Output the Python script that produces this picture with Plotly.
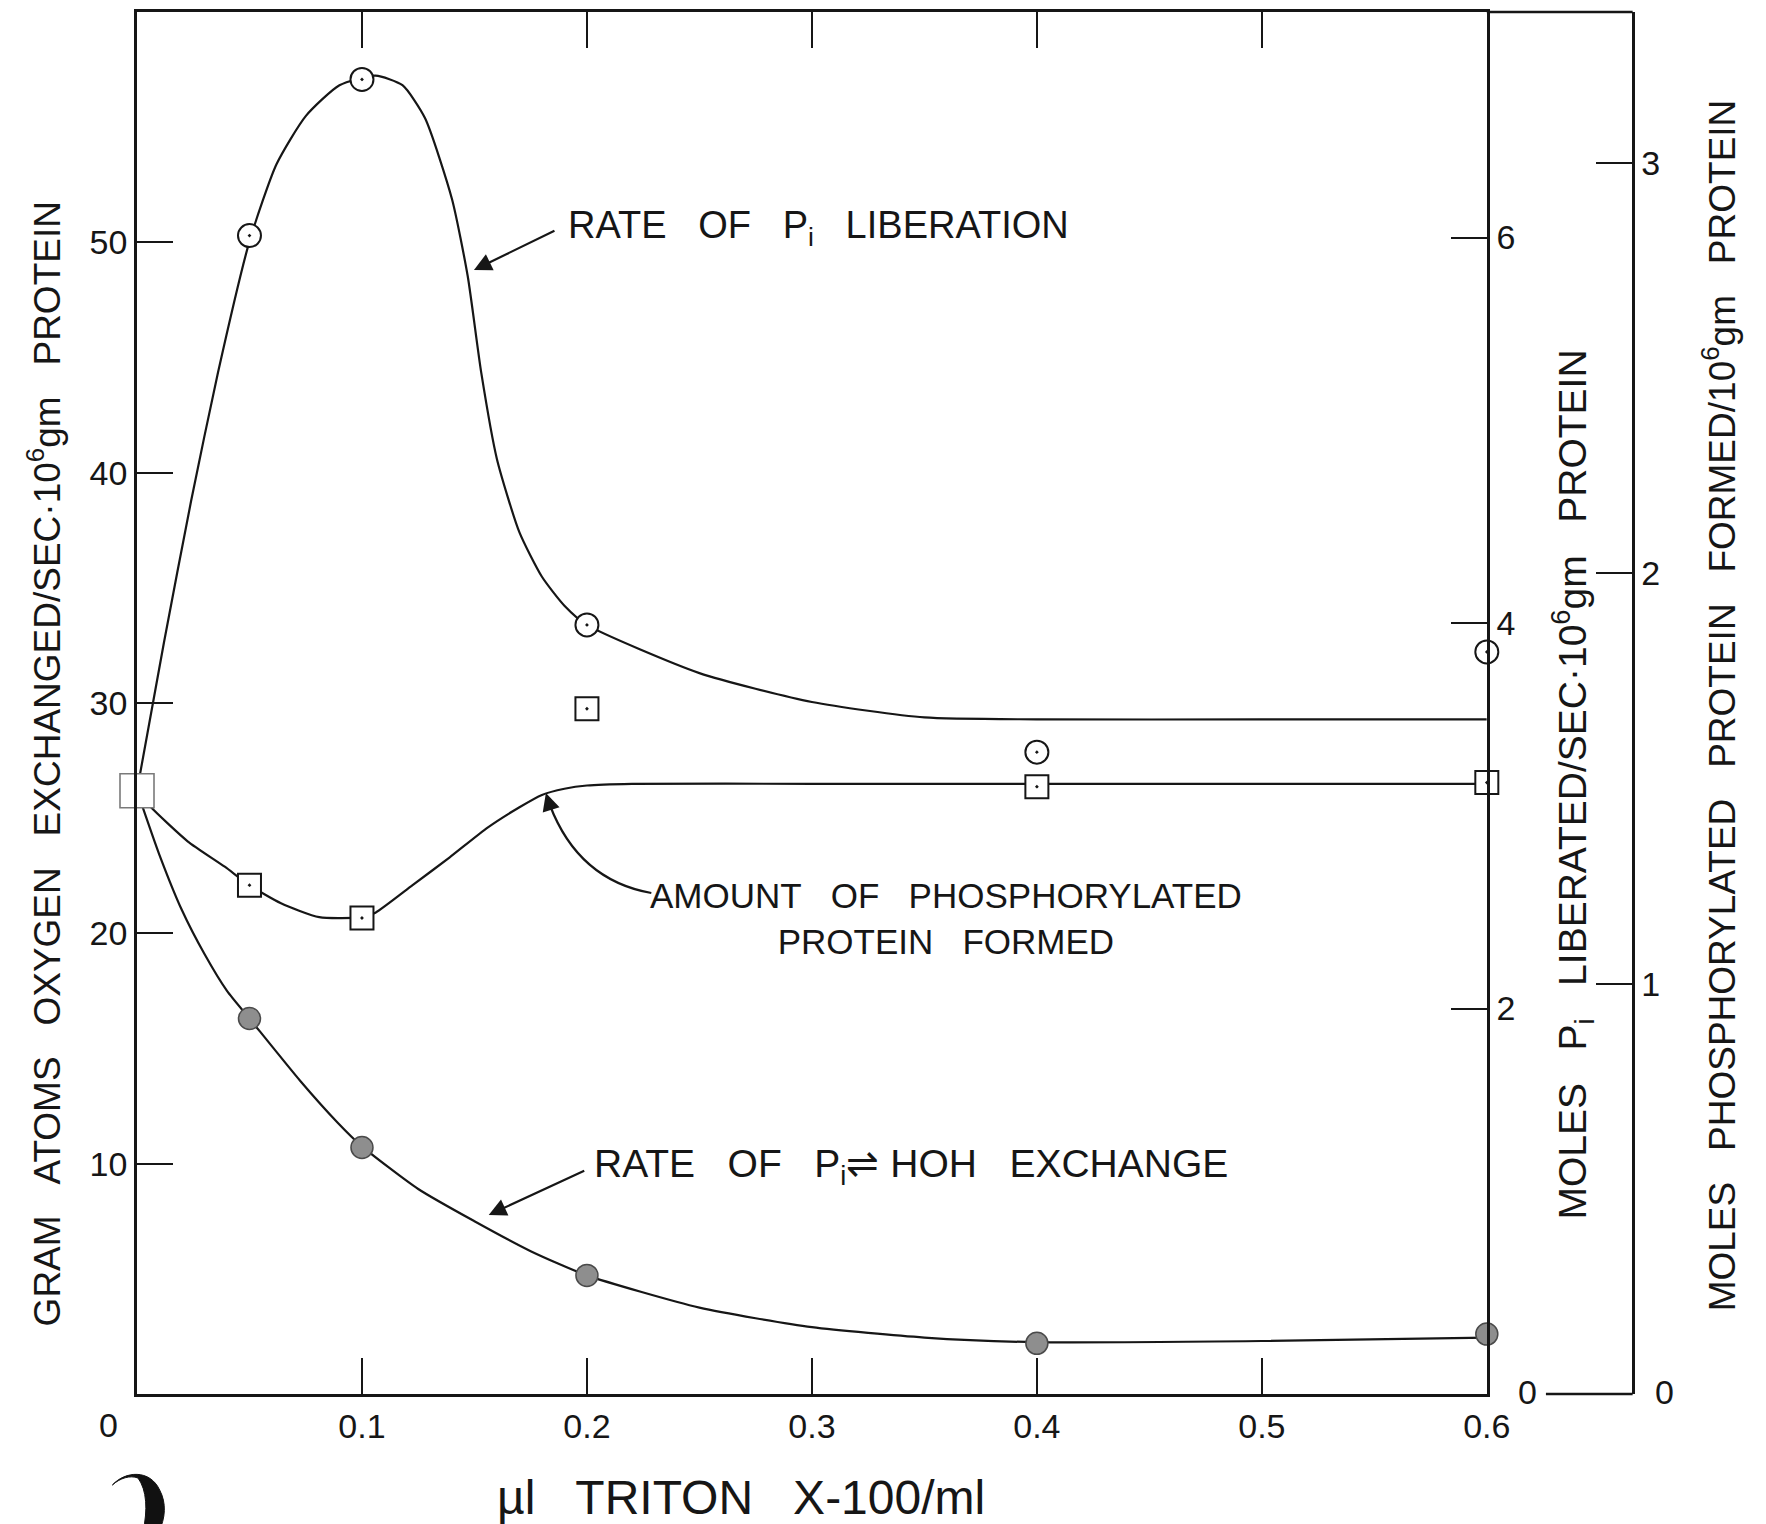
import plotly.graph_objects as go

# ---- data -------------------------------------------------------------
# Triton X-100 concentration (ul/ml) at which measurements were taken
triton = [0.0, 0.05, 0.1, 0.2, 0.4, 0.6]

# Rate of Pi <-> HOH exchange (gram atoms O / sec . 10^6 gm protein), left axis
exchange_pts = [26.2, 16.3, 10.7, 5.15, 2.2, 2.6]
# Rate of Pi liberation (moles Pi / sec . 10^6 gm protein), first right axis
pi_lib_pts = [3.13, 6.01, 6.82, 3.99, 3.33, 3.85]
# Phosphorylated protein formed (moles / 10^6 gm protein), second right axis
phos_pts = [1.47, 1.24, 1.16, 1.67, 1.48, 1.49]

# Hand-fitted curves through the measurements
exch_curve_x = [0.0, 0.01, 0.02, 0.03, 0.04, 0.05, 0.0725, 0.089, 0.1, 0.125,
                0.15, 0.175, 0.2, 0.25, 0.3, 0.35, 0.4, 0.5, 0.6]
exch_curve_y = [26.2, 23.4, 21.0, 19.1, 17.5, 16.3, 13.6, 11.8, 10.75, 8.9,
                7.5, 6.2, 5.15, 3.75, 2.9, 2.45, 2.25, 2.3, 2.45]

pi_curve_x = [0.0, 0.012, 0.024, 0.036, 0.05, 0.062, 0.075, 0.09, 0.106,
              0.118, 0.128, 0.14, 0.147, 0.153, 0.16, 0.17, 0.18, 0.19, 0.2,
              0.25, 0.3, 0.35, 0.4, 0.5, 0.6]
pi_curve_y = [3.13, 3.90, 4.63, 5.30, 5.98, 6.38, 6.63, 6.79, 6.84,
              6.79, 6.62, 6.2, 5.8, 5.3, 4.85, 4.47, 4.24, 4.09, 3.99,
              3.74, 3.59, 3.51, 3.50, 3.50, 3.50]

phos_curve_x = [0.0, 0.006, 0.0225, 0.039, 0.05, 0.064, 0.081, 0.1, 0.106,
                0.1225, 0.139, 0.156, 0.17, 0.18, 0.19, 0.2, 0.22, 0.3, 0.4, 0.6]
phos_curve_y = [1.471, 1.431, 1.347, 1.285, 1.240, 1.196, 1.162, 1.162, 1.173,
                1.240, 1.308, 1.381, 1.43, 1.46, 1.475, 1.483, 1.487, 1.487,
                1.487, 1.487]

x_ticks = [0.1, 0.2, 0.3, 0.4, 0.5, 0.6]
x_tick_text = ["0.1", "0.2", "0.3", "0.4", "0.5", "0.6"]
y_left_ticks = [10, 20, 30, 40, 50]
y_pi_ticks = [2, 4, 6]
y_phos_ticks = [1, 2, 3]

# ---- layout geometry ---------------------------------------------------
W, H = 1766, 1524
ML, MR, MT, MB = 137, 0, 12, 130
PW, PH = W - ML - MR, H - MT - MB
X_RIGHT = 1507      # pixel column of the 0.6 edge
X_FAR = 1655        # pixel column of the outer right axis
Y_BOTTOM = H - MB


def px(X):
    return (X - ML) / PW


def py(Y):
    return (Y_BOTTOM - Y) / PH


INK = "#161616"
FONT = "Liberation Sans"
SP = "\u00a0\u00a0\u00a0"

fig = go.Figure()

# curves
curve_line = dict(color=INK, width=2.2, shape="spline", smoothing=0.6)
fig.add_trace(go.Scatter(x=exch_curve_x, y=exch_curve_y, mode="lines",
                         line=curve_line, yaxis="y", showlegend=False,
                         hoverinfo="skip"))
fig.add_trace(go.Scatter(x=pi_curve_x, y=pi_curve_y, mode="lines",
                         line=curve_line, yaxis="y2", showlegend=False,
                         hoverinfo="skip"))
fig.add_trace(go.Scatter(x=phos_curve_x, y=phos_curve_y, mode="lines",
                         line=curve_line, yaxis="y3", showlegend=False,
                         hoverinfo="skip"))

# measured points
fig.add_trace(go.Scatter(x=triton[1:], y=exchange_pts[1:], mode="markers",
                         marker=dict(symbol="circle", size=22, color="#8e8e8e",
                                     line=dict(color="#4a4a4a", width=1.5)),
                         yaxis="y", showlegend=False, cliponaxis=False))
fig.add_trace(go.Scatter(x=triton[1:], y=pi_lib_pts[1:], mode="markers",
                         marker=dict(symbol="circle-dot", size=23, color="white",
                                     line=dict(color=INK, width=2)),
                         yaxis="y2", showlegend=False, cliponaxis=False))
fig.add_trace(go.Scatter(x=triton[1:], y=phos_pts[1:], mode="markers",
                         marker=dict(symbol="square-dot", size=23, color="white",
                                     line=dict(color=INK, width=2)),
                         yaxis="y3", showlegend=False, cliponaxis=False))
# common control point (no detergent)
fig.add_trace(go.Scatter(x=triton[:1], y=phos_pts[:1], mode="markers",
                         marker=dict(symbol="square", size=34, color="white",
                                     line=dict(color="#7a7a7a", width=1.6)),
                         yaxis="y3", showlegend=False, cliponaxis=False))

axis_font = dict(family=FONT, size=34, color=INK)
tick_common = dict(ticks="inside", ticklen=36, tickwidth=2.4, tickcolor=INK,
                   showline=True, linecolor=INK, linewidth=2.6,
                   showgrid=False, zeroline=False, tickfont=axis_font)

fig.update_layout(
    width=W, height=H, autosize=False,
    margin=dict(l=ML, r=MR, t=MT, b=MB, pad=0),
    paper_bgcolor="white", plot_bgcolor="white",
    font=dict(family=FONT, color=INK),
    xaxis=dict(domain=[0, px(X_RIGHT)], range=[0, 0.6],
               tickvals=x_ticks, ticktext=x_tick_text, mirror="ticks",
               **tick_common),
    yaxis=dict(range=[0, 60.0], tickvals=y_left_ticks, **tick_common),
    yaxis2=dict(range=[0, 7.17], tickvals=y_pi_ticks, overlaying="y",
                side="right", anchor="x", **tick_common),
    yaxis3=dict(range=[0, 3.368], tickvals=y_phos_ticks, overlaying="y",
                side="right", anchor="free", position=px(X_FAR),
                **tick_common),
)

shapes = [
    # top frame continued over to the outer axis
    dict(type="line", xref="paper", yref="paper", x0=px(X_RIGHT), x1=px(X_FAR),
         y0=1, y1=1, line=dict(color=INK, width=2.6)),
    # zero tick of the outer axis
    dict(type="line", xref="paper", yref="paper", x0=px(1567), x1=px(X_FAR),
         y0=0, y1=0, line=dict(color=INK, width=2.6)),
    # curved pointer to the phosphorylated-protein curve
    dict(type="path", xref="paper", yref="paper",
         path=f"M {px(659)},{py(893)} Q {px(585)},{py(880)} {px(556)},{py(805)}",
         line=dict(color=INK, width=2.2)),
    # dark crescent near the lower-left corner of the sheet
    dict(type="path", xref="paper", yref="paper",
         path=(f"M {px(112)},{py(1485)} "
               f"C {px(125)},{py(1471)} {px(150)},{py(1469)} {px(160)},{py(1490)} "
               f"C {px(167)},{py(1503)} {px(166)},{py(1518)} {px(159)},{py(1532)} "
               f"L {px(143)},{py(1532)} "
               f"C {px(148)},{py(1510)} {px(147)},{py(1490)} {px(138)},{py(1478)} "
               f"C {px(130)},{py(1475)} {px(120)},{py(1478)} {px(112)},{py(1485)} Z"),
         fillcolor="#111", line=dict(color="#111", width=1)),
]
fig.update_layout(shapes=shapes)

lab = dict(family=FONT, size=38, color=INK)
annotations = [
    # axis titles
    dict(x=px(43), y=py(764), xref="paper", yref="paper", textangle=-90,
         text=f"GRAM{SP}ATOMS{SP}OXYGEN{SP}EXCHANGED/SEC·10<sup>6</sup>gm{SP}PROTEIN",
         showarrow=False, font=dict(family=FONT, size=37, color=INK),
         xanchor="center", yanchor="middle"),
    dict(x=px(1594), y=py(785), xref="paper", yref="paper", textangle=-90,
         text=f"MOLES{SP}P<sub>i</sub>{SP}LIBERATED/SEC·10<sup>6</sup>gm{SP}PROTEIN",
         showarrow=False, font=dict(family=FONT, size=39, color=INK),
         xanchor="center", yanchor="middle"),
    dict(x=px(1743), y=py(705), xref="paper", yref="paper", textangle=-90,
         text=(f"MOLES{SP}PHOSPHORYLATED{SP}PROTEIN{SP}FORMED/10<sup>6</sup>gm"
               f"{SP}PROTEIN"),
         showarrow=False, font=dict(family=FONT, size=37, color=INK),
         xanchor="center", yanchor="middle"),
    dict(x=px(750), y=py(1497), xref="paper", yref="paper",
         text=f"\u00b5l{SP}TRITON{SP}X-100/ml", showarrow=False,
         font=dict(family=FONT, size=48, color=INK), xanchor="center",
         yanchor="middle"),
    # zero labels
    dict(x=px(108), y=py(1425), xref="paper", yref="paper", text="0",
         showarrow=False, font=axis_font, xanchor="center", yanchor="middle"),
    dict(x=px(1548), y=py(1392), xref="paper", yref="paper", text="0",
         showarrow=False, font=axis_font, xanchor="center", yanchor="middle"),
    dict(x=px(1687), y=py(1392), xref="paper", yref="paper", text="0",
         showarrow=False, font=axis_font, xanchor="center", yanchor="middle"),
    # curve labels
    dict(x=px(572), y=py(228), xref="paper", yref="paper",
         text=f"RATE{SP}OF{SP}P<sub>i</sub>{SP}LIBERATION",
         showarrow=False, font=lab, xanchor="left", yanchor="middle"),
    dict(x=px(958), y=py(918), xref="paper", yref="paper",
         text=f"AMOUNT{SP}OF{SP}PHOSPHORYLATED<br>PROTEIN{SP}FORMED",
         showarrow=False, font=dict(family=FONT, size=35, color=INK),
         xanchor="center", yanchor="middle", align="center"),
    dict(x=px(599), y=py(1166), xref="paper", yref="paper",
         text=f"RATE{SP}OF{SP}P<sub>i</sub>\u21cc HOH{SP}EXCHANGE",
         showarrow=False, font=dict(family=FONT, size=39, color=INK),
         xanchor="left", yanchor="middle"),
    # pointers
    dict(x=px(479), y=py(270), xref="paper", yref="paper", text="",
         showarrow=True, ax=82, ay=-40, arrowhead=2, arrowsize=1.6,
         arrowwidth=2.2, arrowcolor=INK),
    dict(x=px(494), y=py(1215), xref="paper", yref="paper", text="",
         showarrow=True, ax=97, ay=-45, arrowhead=2, arrowsize=1.6,
         arrowwidth=2.2, arrowcolor=INK),
    dict(x=px(552), y=py(793), xref="paper", yref="paper", text="",
         showarrow=True, ax=5, ay=16, arrowhead=2, arrowsize=1.6,
         arrowwidth=2.2, arrowcolor=INK),
]
fig.update_layout(annotations=annotations)

fig.write_html("out.html")
